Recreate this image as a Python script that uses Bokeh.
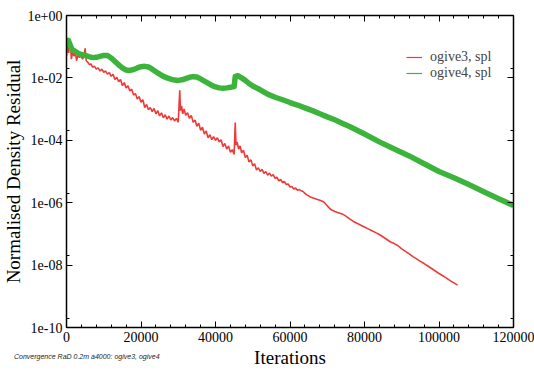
from bokeh.plotting import figure
from bokeh.layouts import column
from bokeh.models import (FixedTicker, SingleIntervalTicker, LogAxis, LinearAxis,
                          CustomJSTickFormatter, BasicTickFormatter, Legend, LegendItem,
                          Div, Range1d)
from bokeh.embed import file_html
from bokeh.resources import INLINE

# ---- data ----
# ogive3, spl  (iterations, log10 residual)
red_iter = [0, 300, 600, 1000, 1300, 1700, 2000, 2400, 2700, 3100, 3500, 3900, 4300, 4700,
            5000, 5300, 5700, 6200, 6600, 7000, 7500, 8000, 8500, 9000, 9500, 10000, 10500,
            11000, 11500, 12000, 12500, 13000, 13500, 14000, 14500, 15000, 15500, 16000,
            16500, 17000, 17500, 18000, 18500, 19000, 19500, 20000, 20500, 21000, 21500,
            22000, 22500, 23000, 23500, 24000, 24500, 25000, 25500, 26000, 26500, 27000,
            27500, 28000, 28500, 29000, 29500, 30000, 30400, 30600, 30900, 31200, 31600,
            32000, 32500, 33000, 33500, 34000, 34500, 35000, 35500, 36000, 36500, 37000,
            37500, 38000, 38500, 39000, 39500, 40000, 40500, 41000, 41500, 42000, 42500,
            43000, 43500, 44000, 44500, 45000, 45300, 45500, 45800, 46200, 46600, 47000,
            47500, 48000, 48500, 49000, 49500, 50000, 50500, 51000, 51500, 52000, 52500,
            53000, 53500, 54000, 54500, 55000, 55500, 56000, 56500, 57000, 57500, 58000,
            58500, 59000, 59500, 60000, 60500, 61000, 61500, 62000, 62500, 63000, 63500,
            64000, 64500, 65000, 65500, 66000, 67000, 68000, 69000, 70000, 71000, 72000,
            73000, 74000, 75000, 76000, 77000, 78000, 79000, 80000, 81000, 82000, 83000,
            84000, 85000, 86000, 87000, 88000, 89000, 90000, 91000, 92000, 93000, 94000,
            95000, 96000, 97000, 98000, 99000, 100000, 101000, 102000, 103000, 104000, 105000]
red_log10 = [-1.30, -0.95, -1.20, -0.80, -1.40, -1.15, -1.30, -1.20, -1.45, -1.25, -1.35,
             -1.28, -1.40, -1.30, -1.05, -1.45, -1.50, -1.58, -1.55, -1.66, -1.62, -1.72,
             -1.68, -1.78, -1.72, -1.82, -1.78, -1.88, -1.83, -1.95, -1.88, -2.05, -1.98,
             -2.12, -2.05, -2.25, -2.15, -2.32, -2.25, -2.42, -2.36, -2.55, -2.50, -2.68,
             -2.60, -2.78, -2.70, -2.95, -2.85, -3.02, -2.95, -3.08, -2.98, -3.15, -3.05,
             -3.22, -3.12, -3.28, -3.18, -3.32, -3.22, -3.35, -3.27, -3.38, -3.30, -3.42,
             -2.40, -3.05, -2.90, -3.15, -3.00, -3.20, -3.12, -3.30, -3.20, -3.42, -3.35,
             -3.55, -3.45, -3.68, -3.58, -3.80, -3.70, -3.92, -3.82, -3.98, -3.88, -4.00,
             -3.92, -4.05, -3.98, -4.20, -4.10, -4.28, -4.18, -4.38, -4.30, -4.45, -3.43,
             -4.15, -4.05, -4.28, -4.18, -4.40, -4.32, -4.55, -4.48, -4.70, -4.62, -4.82,
             -4.75, -4.95, -4.88, -5.00, -4.93, -5.06, -5.00, -5.12, -5.05, -5.15, -5.10,
             -5.22, -5.18, -5.30, -5.25, -5.36, -5.32, -5.42, -5.40, -5.50, -5.48, -5.56,
             -5.53, -5.60, -5.58, -5.62, -5.64, -5.70, -5.75, -5.78, -5.82, -5.84, -5.88,
             -5.92, -5.97, -6.10, -6.22, -6.28, -6.32, -6.36, -6.43, -6.52, -6.60, -6.66,
             -6.72, -6.78, -6.84, -6.90, -6.96, -7.02, -7.10, -7.18, -7.26, -7.31, -7.38,
             -7.48, -7.56, -7.64, -7.73, -7.80, -7.88, -7.95, -8.03, -8.11, -8.19, -8.27,
             -8.34, -8.42, -8.50, -8.57, -8.64]

# ogive4, spl  (iterations, log10 residual)
green_iter = [0, 500, 1000, 1500, 2000, 3000, 4000, 5000, 6000, 7000, 8000, 9000, 10000,
              11000, 12000, 13000, 14000, 15000, 16000, 17000, 18000, 19000, 20000, 21000,
              22000, 23000, 24000, 25000, 26000, 27000, 28000, 29000, 30000, 31000, 32000,
              33000, 34000, 35000, 36000, 37000, 38000, 39000, 40000, 41000, 42000, 43000,
              44000, 45000, 45300, 46000, 47000, 48000, 49000, 50000, 52000, 54000, 56000,
              58000, 60000, 62000, 64000, 66000, 68000, 70000, 72000, 74000, 76000, 78000,
              80000, 84000, 88000, 92000, 96000, 100000, 104000, 108000, 112000, 116000, 120000]
green_log10 = [-0.90, -0.80, -0.95, -1.10, -1.12, -1.20, -1.25, -1.28, -1.32, -1.35, -1.34,
               -1.31, -1.28, -1.28, -1.36, -1.47, -1.58, -1.68, -1.75, -1.76, -1.73, -1.68,
               -1.64, -1.63, -1.65, -1.72, -1.80, -1.88, -1.95, -2.00, -2.04, -2.07, -2.08,
               -2.06, -2.02, -1.98, -1.96, -1.97, -2.03, -2.10, -2.17, -2.24, -2.29, -2.32,
               -2.33, -2.32, -2.30, -2.28, -1.95, -1.93, -2.00, -2.08, -2.18, -2.26, -2.38,
               -2.52, -2.62, -2.70, -2.79, -2.87, -2.96, -3.05, -3.15, -3.25, -3.34, -3.45,
               -3.56, -3.68, -3.80, -4.05, -4.28, -4.50, -4.75, -5.00, -5.20, -5.42, -5.65,
               -5.87, -6.09]

series_labels = ["ogive3, spl", "ogive4, spl"]
x_label = "Iterations"
y_label = "Normalised Density Residual"
caption = "Convergence RaD 0.2m a4000: ogive3, ogive4"

red_vals = [10 ** v for v in red_log10]
green_vals = [10 ** v for v in green_log10]

SERIF = "Liberation Serif"
RED = "#f03a3a"
GREEN = "#3cb43c"

p = figure(width=534, height=371, output_backend="svg", toolbar_location=None,
           y_axis_type="log", x_range=Range1d(0, 120000), y_range=Range1d(1e-10, 1e0),
           min_border_left=63, min_border_right=21, min_border_top=15, min_border_bottom=44)
p.background_fill_color = "white"
p.border_fill_color = "white"
p.outline_line_color = "black"
p.outline_line_width = 1
p.xgrid.visible = False
p.ygrid.visible = False

xticker = SingleIntervalTicker(interval=20000, num_minor_ticks=5)
yticker = FixedTicker(ticks=[1e0, 1e-2, 1e-4, 1e-6, 1e-8, 1e-10],
                      minor_ticks=[2e-2, 2e-4, 2e-6, 2e-8, 2e-10])
yfmt = CustomJSTickFormatter(code="""
const e = Math.round(Math.log10(tick));
const a = Math.abs(e);
return '1e' + (e < 0 ? '-' : '+') + (a < 10 ? '0' + a : '' + a);
""")
blank = CustomJSTickFormatter(code="return '';")

def style(ax):
    ax.major_tick_in = 6
    ax.major_tick_out = 0
    ax.minor_tick_in = 3
    ax.minor_tick_out = 0
    ax.axis_line_color = "black"
    ax.axis_line_width = 1.5
    ax.major_tick_line_color = "black"
    ax.minor_tick_line_color = "black"
    ax.major_label_text_font = SERIF
    ax.major_label_text_font_size = "14px"
    ax.major_label_text_color = "black"
    ax.axis_label_text_font = SERIF
    ax.axis_label_text_font_style = "normal"
    ax.axis_label_text_font_size = "19px"
    ax.axis_label_text_color = "black"

xa = p.xaxis[0]
xa.ticker = xticker
xa.formatter = BasicTickFormatter(use_scientific=False)
style(xa)
xa.axis_label = x_label
xa.major_label_standoff = 4
xa.axis_label_standoff = 2

ya = p.yaxis[0]
ya.ticker = yticker
ya.formatter = yfmt
style(ya)
ya.axis_label = y_label
ya.major_label_standoff = 4
ya.axis_label_standoff = 0

top = LinearAxis(ticker=xticker, formatter=blank)
style(top)
top.major_label_standoff = 0
p.add_layout(top, "above")
right = LogAxis(ticker=yticker, formatter=blank)
style(right)
right.major_label_standoff = 0
p.add_layout(right, "right")

r_red = p.line(red_iter, red_vals, line_color=RED, line_width=1.6)
r_green = p.line(green_iter, green_vals, line_color=GREEN, line_width=5.5, line_join="round")

# thin legend samples (a single undefined point each, so nothing is drawn in the plot)
nan = float("nan")
leg_red = p.line([nan], [nan], line_color=RED, line_width=1.2)
leg_green = p.line([nan], [nan], line_color=GREEN, line_width=1.2)

legend = Legend(items=[LegendItem(label=series_labels[0], renderers=[leg_red]),
                       LegendItem(label=series_labels[1], renderers=[leg_green])],
                location=(338, 244), background_fill_alpha=0, border_line_alpha=0,
                label_text_font=SERIF, label_text_font_size="14px", label_height=14,
                glyph_height=14, glyph_width=16, spacing=0, padding=2, margin=0,
                label_standoff=8)
p.add_layout(legend)

cap = Div(text=caption, width=220, height=9, margin=(-19, 0, 0, 14),
          styles={"font-family": "Liberation Sans", "font-style": "italic",
                  "font-size": "7px", "line-height": "9px", "color": "#222222",
                  "white-space": "nowrap"})

layout = column(p, cap, spacing=0)
open("out.html", "w").write(file_html(layout, INLINE))
